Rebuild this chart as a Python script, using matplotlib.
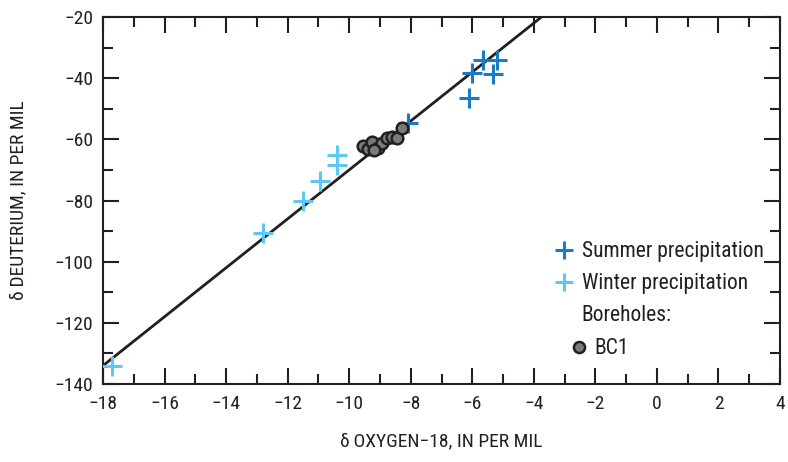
import matplotlib
matplotlib.use("Agg")
import matplotlib.pyplot as plt
import numpy as np
from matplotlib.ticker import MultipleLocator, FuncFormatter
from matplotlib.lines import Line2D

plt.rcParams['font.family'] = ['Roboto Condensed', 'Archivo Narrow', 'Barlow Condensed', 'DejaVu Sans']

summer_o18 = [-5.65, -5.2, -6.0, -5.33, -6.1, -8.1]
summer_dD = [-34.1, -34.1, -38.3, -38.6, -46.5, -54.7]

winter_o18 = [-10.4, -10.4, -10.95, -11.5, -12.8, -17.7]
winter_dD = [-65.1, -68.4, -73.6, -80.2, -90.6, -134.1]

bc1_o18 = [-9.55, -9.39, -9.26, -9.06, -8.93, -8.77, -8.61, -8.45, -8.29, -9.2]
bc1_dD = [-62.2, -63.2, -60.9, -62.8, -61.2, -59.6, -59.2, -59.6, -56.3, -63.5]

# Global meteoric water line: dD = slope * d18O + intercept
gmwl_slope = 8.0
gmwl_intercept = 10.0
gmwl_x = [-18.0, -3.75]

dark = '#231f20'
summer_c = '#1a7ac2'
winter_c = '#5ec8f2'
circle_c = '#7a7a7a'

W, H = 788, 462
fig = plt.figure(figsize=(W/100, H/100), dpi=100)
ax = fig.add_axes([103/W, 1-384/H, (780-103)/W, (384-17)/H])

gx = np.array(gmwl_x)
ax.plot(gx, gmwl_slope*gx + gmwl_intercept, color=dark, lw=2.0, zorder=2)

ax.scatter(winter_o18, winter_dD, marker='+', s=210, linewidths=2.2, color=winter_c, zorder=3)
ax.scatter(summer_o18, summer_dD, marker='+', s=210, linewidths=2.2, color=summer_c, zorder=3)
ax.scatter(bc1_o18, bc1_dD, marker='o', s=70, facecolor=circle_c, edgecolor=dark, linewidths=1.8, zorder=4)

ax.set_xlim(-18, 4)
ax.set_ylim(-140, -20)
ax.xaxis.set_major_locator(MultipleLocator(2))
ax.xaxis.set_minor_locator(MultipleLocator(1))
ax.yaxis.set_major_locator(MultipleLocator(20))
ax.yaxis.set_minor_locator(MultipleLocator(10))
ax.tick_params(which='both', direction='in', top=True, right=True, width=1.5, color=dark,
               labelsize=14, labelcolor=dark)
ax.tick_params(which='major', length=11.5)
ax.tick_params(axis='x', which='major', pad=8)
ax.tick_params(axis='y', which='major', pad=7)
ax.tick_params(which='minor', length=7.5)
for s in ax.spines.values():
    s.set_linewidth(1.5)
    s.set_color(dark)

fmt = FuncFormatter(lambda v, p: f"{int(round(v))}".replace('-', '\u2212'))
ax.xaxis.set_major_formatter(fmt)
ax.yaxis.set_major_formatter(fmt)

ax.set_xlabel('\u03b4\u2009OXYGEN\u221218, IN PER MIL', fontsize=14, color=dark, labelpad=14)
ax.set_ylabel('\u03b4\u2009DEUTERIUM, IN PER MIL', fontsize=14, color=dark, labelpad=20)

fs = 15.5
h1 = [
    Line2D([], [], marker='+', ls='none', color=summer_c, markersize=13, markeredgewidth=2.2),
    Line2D([], [], marker='+', ls='none', color=winter_c, markersize=13, markeredgewidth=2.2),
    Line2D([], [], ls='none'),
]
l1 = ['Summer precipitation', 'Winter precipitation', 'Boreholes:']
leg1 = ax.legend(h1, l1, loc='upper left', bbox_to_anchor=(535.8/W, 1-222/H),
                 bbox_transform=fig.transFigure, frameon=False, fontsize=fs,
                 handlelength=0.8, handletextpad=0.44, labelspacing=0.5, labelcolor=dark)
ax.add_artist(leg1)

h2 = [Line2D([], [], marker='o', ls='none', markerfacecolor=circle_c, markeredgecolor=dark,
             markersize=8, markeredgewidth=1.8)]
leg2 = ax.legend(h2, ['BC1'], loc='upper left', bbox_to_anchor=(550.8/W, 1-319/H),
                 bbox_transform=fig.transFigure, frameon=False, fontsize=fs,
                 handlelength=0.8, handletextpad=0.34, labelcolor=dark)

fig.savefig('out.png', dpi=100)
